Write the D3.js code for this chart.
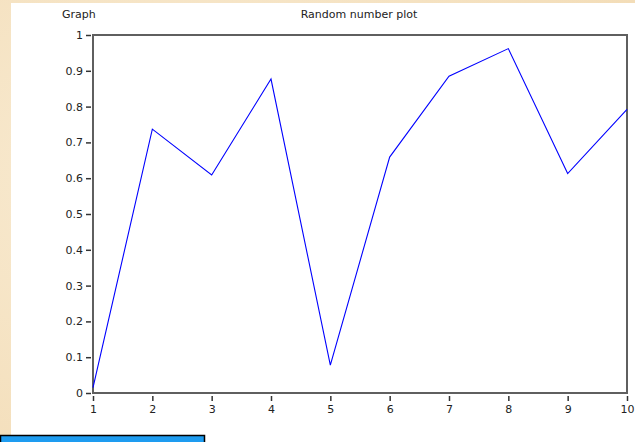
<!DOCTYPE html>
<html><head><meta charset="utf-8">
<script src="https://cdn.jsdelivr.net/npm/d3@7"></script>
<style>html,body{margin:0;padding:0;overflow:hidden;}svg{display:block;}</style>
</head><body>
<svg id="c" width="635" height="442"></svg>
<script>
const xValues = [1, 2, 3, 4, 5, 6, 7, 8, 9, 10];
const yValues = [0.015, 0.737, 0.609, 0.877, 0.078, 0.659, 0.885, 0.962, 0.613, 0.792];
const xTicks = [1, 2, 3, 4, 5, 6, 7, 8, 9, 10];
const yTicks = [0, 0.1, 0.2, 0.3, 0.4, 0.5, 0.6, 0.7, 0.8, 0.9, 1];
const chartTitle = "Random number plot";
const panelLabel = "Graph";

const svg = d3.select("#c");
const W = 635, H = 442;
const defs = svg.append("defs");
const rg = defs.append("radialGradient").attr("id","bg").attr("cx","30%").attr("cy","40%").attr("r","80%");
rg.append("stop").attr("offset","0%").attr("stop-color","#f9ecd4");
rg.append("stop").attr("offset","100%").attr("stop-color","#f3ddb8");
svg.append("rect").attr("width",W).attr("height",H).attr("fill","url(#bg)");
// white panel
svg.append("rect").attr("x",11).attr("y",3).attr("width",W-11).attr("height",H-3).attr("fill","#ffffff");
// blue bar bottom-left
svg.append("rect").attr("x",0.5).attr("y",435.5).attr("width",204).attr("height",10).attr("fill","#1e9cf0").attr("stroke","#000").attr("stroke-width",1.5);

const m = {l:93, r:627, t:35, b:393};
const x = d3.scaleLinear().domain([1,10]).range([m.l, m.r]);
const y = d3.scaleLinear().domain([0,1]).range([m.b, m.t]);
const font = "'DejaVu Sans', Tahoma, sans-serif";

// frame
svg.append("rect").attr("x",m.l).attr("y",m.t).attr("width",m.r-m.l).attr("height",m.b-m.t)
  .attr("fill","none").attr("stroke","#5f5f5f").attr("stroke-width",2);

// y axis
const ya = svg.append("g").attr("transform",`translate(${m.l-2},0)`)
  .call(d3.axisLeft(y).tickValues(yTicks).tickSize(5).tickPadding(3).tickFormat(d3.format("")));
ya.select(".domain").remove();
ya.selectAll("line").attr("stroke","#333").attr("stroke-width",1.5);
ya.selectAll("text").attr("font-family",font).attr("font-size",11).attr("fill","#222");

// x axis
const xa = svg.append("g").attr("transform",`translate(0,${m.b+3})`)
  .call(d3.axisBottom(x).tickValues(xTicks).tickSize(5).tickPadding(4).tickFormat(d3.format("d")));
xa.select(".domain").remove();
xa.selectAll("line").attr("stroke","#333").attr("stroke-width",1.5);
xa.selectAll("text").attr("font-family",font).attr("font-size",11).attr("fill","#222");

// line
const line = d3.line().x((d,i)=>x(xValues[i])).y(d=>y(d));
svg.append("path").datum(yValues).attr("d",line).attr("fill","none").attr("stroke","#0000ff").attr("stroke-width",1.1);

// titles
svg.append("text").attr("x",62).attr("y",18).attr("font-family",font).attr("font-size",11).attr("fill","#222").text(panelLabel);
svg.append("text").attr("x",359).attr("y",18).attr("text-anchor","middle").attr("font-family",font).attr("font-size",11).attr("fill","#222").text(chartTitle);
</script>
</body></html>
